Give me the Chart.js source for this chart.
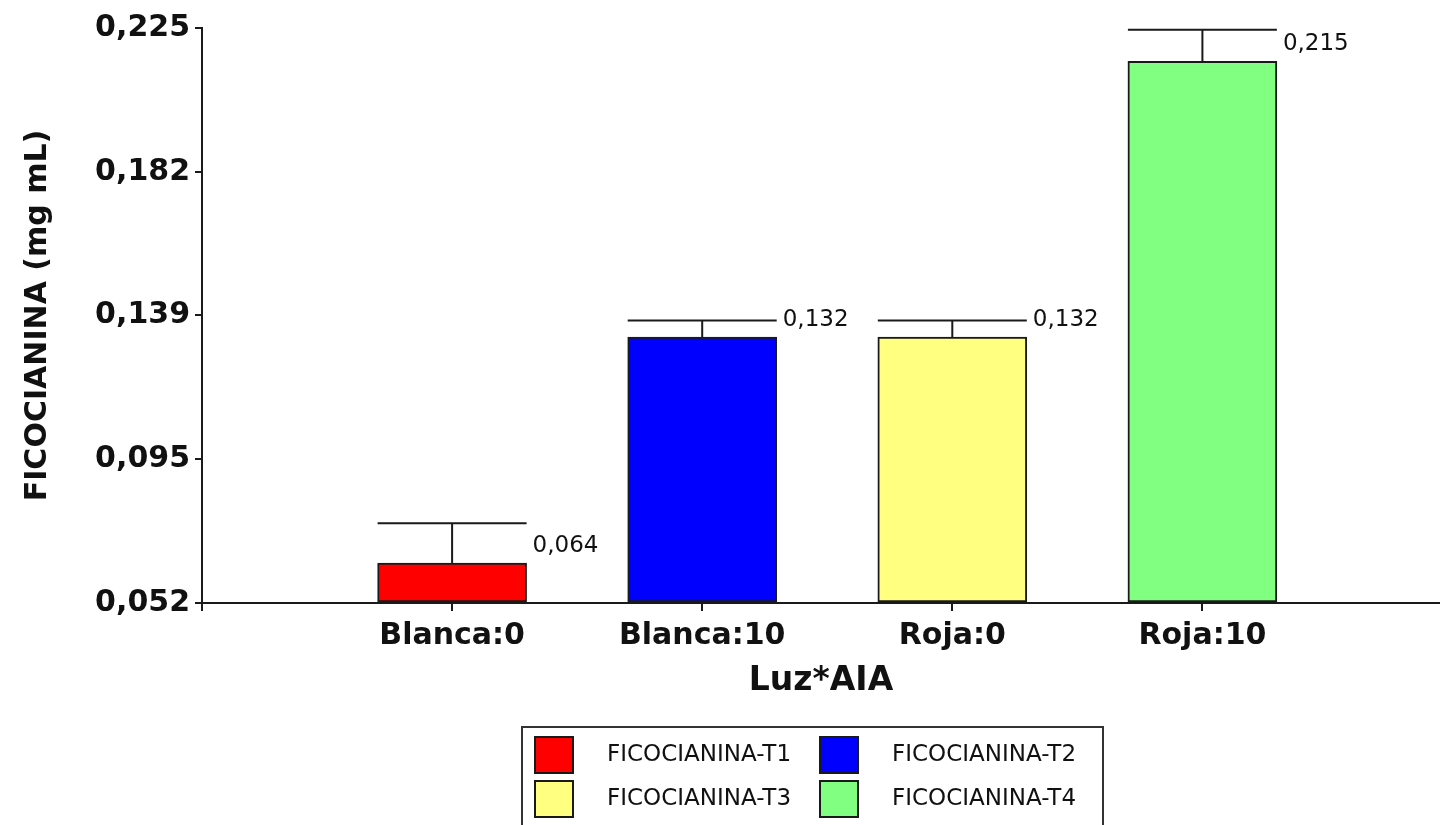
<!DOCTYPE html>
<html>
<head>
<meta charset="utf-8">
<title>Ficocianina por Luz*AIA</title>
<script src="https://cdn.jsdelivr.net/npm/chart.js@4.4.1/dist/chart.umd.min.js"></script>
<style>
  html, body { margin: 0; padding: 0; background: #ffffff; overflow: hidden; }
  #wrap { width: 1440px; height: 825px; position: relative; }
</style>
</head>
<body>
<div id="wrap"><canvas id="c" width="1440" height="825"></canvas></div>
<script>
// Treatment combinations (light colour : AIA dose)
const categories = ['Blanca:0', 'Blanca:10', 'Roja:0', 'Roja:10'];
// One series per treatment
const seriesNames = ['FICOCIANINA-T1', 'FICOCIANINA-T2', 'FICOCIANINA-T3', 'FICOCIANINA-T4'];
// Mean phycocyanin (mg mL) and upper error
const means = [0.064, 0.132, 0.132, 0.215];
const errors = [0.012, 0.005, 0.005, 0.0095];
// Value axis ticks
const yTickValues = [0.052, 0.09525, 0.1385, 0.18175, 0.225];
const yTickLabels = ['0,052', '0,095', '0,139', '0,182', '0,225'];

const fills = ['#ff0000', '#0000ff', '#ffff80', '#80ff80'];
const ink = '#1a1a1a';
const FONT = "'DejaVu Sans', sans-serif";

const fmt = v => v.toFixed(3).replace('.', ',');

// Error whiskers with a full-width cap, plus the mean printed beside each bar
const errorBars = {
  id: 'errorBars',
  afterDatasetsDraw(chart) {
    const ctx = chart.ctx;
    const yScale = chart.scales.y;
    ctx.save();
    chart.data.datasets.forEach((ds, i) => {
      const bar = chart.getDatasetMeta(i).data[0];
      if (!bar) return;
      const { x, y, width } = bar.getProps(['x', 'y', 'width'], true);
      const yTop = yScale.getPixelForValue(means[i] + errors[i]);
      ctx.strokeStyle = ink;
      ctx.lineWidth = 2;
      ctx.beginPath();
      ctx.moveTo(x, y);
      ctx.lineTo(x, yTop);
      ctx.moveTo(x - width / 2, yTop);
      ctx.lineTo(x + width / 2, yTop);
      ctx.stroke();
      ctx.fillStyle = '#111';
      ctx.font = '23px ' + FONT;
      ctx.textAlign = 'left';
      ctx.textBaseline = 'middle';
      ctx.fillText(fmt(means[i]), x + width / 2 + 6, y - 17);
    });
    ctx.restore();
  }
};

// Boxed two-column legend under the axis
const boxLegend = {
  id: 'boxLegend',
  afterDraw(chart) {
    const ctx = chart.ctx;
    const left = 522, top = 727, w = 581, h = 102;
    ctx.save();
    ctx.strokeStyle = '#333';
    ctx.lineWidth = 2;
    ctx.strokeRect(left, top, w, h);
    chart.data.datasets.forEach((ds, i) => {
      const col = i % 2, row = Math.floor(i / 2);
      const sx = left + 13 + col * 285;
      const sy = top + 10 + row * 44;
      ctx.fillStyle = ds.backgroundColor;
      ctx.fillRect(sx, sy, 38, 36);
      ctx.strokeStyle = ink;
      ctx.lineWidth = 2;
      ctx.strokeRect(sx, sy, 38, 36);
      ctx.fillStyle = '#111';
      ctx.font = '23px ' + FONT;
      ctx.textAlign = 'left';
      ctx.textBaseline = 'middle';
      ctx.fillText(ds.label, sx + 72, sy + 18);
    });
    ctx.restore();
  }
};

const datasets = seriesNames.map((name, i) => ({
  label: name,
  data: [{ x: i + 1, y: means[i] }],
  backgroundColor: fills[i],
  borderColor: ink,
  borderWidth: 2,
  borderSkipped: false,
  barThickness: 149,
  grouped: false,
  base: yTickValues[0]
}));

new Chart(document.getElementById('c'), {
  type: 'bar',
  data: { datasets },
  options: {
    responsive: false,
    devicePixelRatio: 1,
    animation: false,
    layout: { padding: { top: 28, right: 0, bottom: 0, left: 0 } },
    plugins: {
      legend: { display: false },
      tooltip: { enabled: false }
    },
    scales: {
      x: {
        type: 'linear',
        min: 0,
        max: 4.95,
        offset: false,
        afterBuildTicks: s => { s.ticks = [0, 1, 2, 3, 4].map(v => ({ value: v })); },
        afterFit: s => { s.height = 222; },
        grid: { offset: false, drawOnChartArea: false, drawTicks: true, tickLength: 8, color: ink, lineWidth: 2 },
        border: { color: ink, width: 2 },
        ticks: {
          autoSkip: false,
          maxRotation: 0,
          padding: 7,
          color: '#111',
          font: { family: FONT, size: 30, weight: 'bold' },
          callback: v => (v >= 1 && v <= categories.length ? categories[v - 1] : '')
        },
        title: {
          display: true,
          text: 'Luz*AIA',
          color: '#111',
          font: { family: FONT, size: 33, weight: 'bold' },
          padding: { top: 0, bottom: 124 }
        }
      },
      y: {
        min: yTickValues[0],
        max: yTickValues[yTickValues.length - 1],
        afterBuildTicks: s => { s.ticks = yTickValues.map(v => ({ value: v })); },
        afterFit: s => { s.width = 202; },
        grid: { drawOnChartArea: false, drawTicks: true, tickLength: 7, color: ink, lineWidth: 2 },
        border: { color: ink, width: 2 },
        ticks: {
          padding: 5,
          color: '#111',
          font: { family: FONT, size: 30, weight: 'bold' },
          callback: (v, i) => yTickLabels[i]
        },
        title: {
          display: true,
          text: 'FICOCIANINA (mg mL)',
          color: '#111',
          font: { family: FONT, size: 30, weight: 'bold' },
          padding: { top: 20, bottom: 0 }
        }
      }
    }
  },
  plugins: [errorBars, boxLegend]
});
</script>
</body>
</html>
